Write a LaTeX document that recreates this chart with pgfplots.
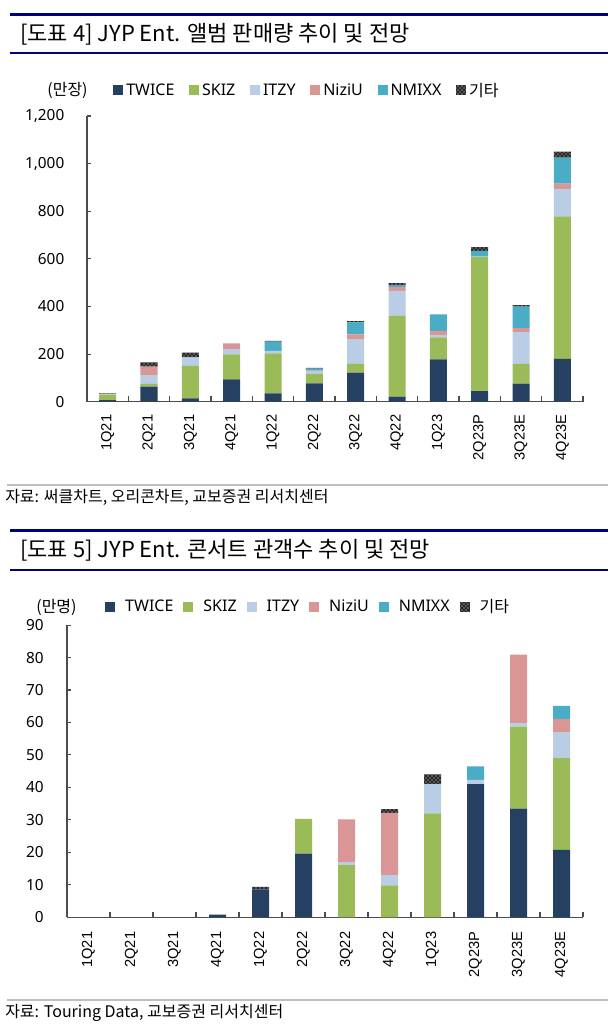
\documentclass[border=0pt]{standalone}
\usepackage{fontspec}
\usepackage{pgfplots}
\usepackage{pgfplotstable}
\pgfplotsset{compat=1.18}
\usetikzlibrary{patterns}
\setmainfont{Noto Sans}
\newfontfamily\kr{Noto Sans CJK KR}
\newfontfamily\arialf{Liberation Sans}
\newfontfamily\titlef{Noto Sans CJK KR}

\definecolor{cTwice}{RGB}{37,64,97}
\definecolor{cSkiz}{RGB}{155,187,89}
\definecolor{cItzy}{RGB}{185,205,229}
\definecolor{cNiziu}{RGB}{217,150,148}
\definecolor{cNmixx}{RGB}{75,172,198}
\definecolor{navy}{RGB}{0,0,128}

% album sales (10k copies)
\pgfplotstableread{
q TWICE SKIZ ITZY NiziU NMIXX ETC
0 7 23 3 0 0 2
1 63 12 37 35 0 18
2 14 137 35 0 0 20
3 94 105 22 24 0 0
4 35 168 10 0 39 3
5 77 40 12 2 8 3
6 122 37 104 20 50 5
7 21 340 105 16 9 7
8 178 92 10 18 69 0
9 44 563 2 0 24 16
10 76 83 133 17 90 7
11 180 598 116 22 109 25
}\albums

% concert audience (10k)
\pgfplotstableread{
q TWICE SKIZ ITZY NiziU NMIXX ETC
0 0 0 0 0 0 0
1 0 0 0 0 0 0
2 0 0 0 0 0 0
3 0.8 0 0 0 0 0
4 8.6 0 0 0 0 0.8
5 19.6 10.7 0 0 0 0
6 0 16.1 0.9 13.2 0 0
7 0 9.8 3.2 19.2 0 1.1
8 0 32 9 0 0 3
9 41 0 1.3 0 4.2 0
10 33.5 25.2 1.1 21.1 0 0
11 20.8 28.2 8 4 4.1 0
}\concerts

\pgfplotsset{
  jyp/.style={
    scale only axis, ybar stacked, bar width=12.75pt,
    xmin=-0.5, xmax=11.5, ymin=0,
    axis x line*=bottom, axis y line*=left,
    axis line style={black!70, line width=0.9pt},
    tick align=inside,
    xtick={0,...,11},
    xticklabels={1Q21,2Q21,3Q21,4Q21,1Q22,2Q22,3Q22,4Q22,1Q23,2Q23P,3Q23E,4Q23E},
    minor xtick={0.5,1.5,...,11.5},
    major x tick style={draw=none},
    minor tick length=4.25pt, major tick length=3.25pt,
    every tick/.style={black!70, line width=0.8pt},
    x tick label style={font=\arialf\fontsize{11}{12}\selectfont, rotate=90, anchor=east},
    y tick label style={font=\fontsize{11.5}{13}\selectfont},
    /pgf/number format/assume math mode=true,
    /pgf/number format/1000 sep={,},
    legend columns=6,
    legend style={draw=none, fill=none, inner sep=0pt, anchor=west,
      nodes={inner sep=0pt, font=\fontsize{12}{14}\selectfont}},
    every axis plot post/.append style={draw=none},
    legend image code/.code={\fill[##1] (0pt,-3.75pt) rectangle (7.5pt,3.75pt);},
  },
  twice/.style={fill=cTwice},
  skiz/.style={fill=cSkiz},
  itzy/.style={fill=cItzy},
  niziu/.style={fill=cNiziu},
  nmixx/.style={fill=cNmixx},
  etc/.style={fill=black!85, postaction={pattern=crosshatch dots, pattern color=white}},
}

\begin{document}
\begin{tikzpicture}[x=0.75pt, y=-0.75pt]
\useasboundingbox (0,0) rectangle (615,1032);

% ---- chart 4 ----
\draw[navy, line width=2.25pt] (10,14.2) -- (608,14.2);
\draw[navy, line width=1.5pt] (10,53.3) -- (608,53.3);
\node[anchor=west, inner sep=0pt, font=\titlef\fontsize{16.5}{19}\selectfont] at (20,34) {[도표 4] JYP Ent. 앨범 판매량 추이 및 전망};

\begin{axis}[jyp,
  at={(65.25pt,-301.28pt)}, anchor=south west,
  width=372pt, height=214.3pt,
  ymax=1200, ytick={0,200,...,1200},
  yticklabel shift=13.5pt, xticklabel shift=6.3pt,
  legend style={at={(0.0524,1.0893)},
    /tikz/every odd column/.style={column sep=2.25pt},
    /tikz/every even column/.style={column sep=11pt}},
]
\addplot[twice] table[x=q, y=TWICE] {\albums};
\addlegendentry{TWICE}
\addplot[skiz] table[x=q, y=SKIZ] {\albums};
\addlegendentry{SKIZ}
\addplot[itzy] table[x=q, y=ITZY] {\albums};
\addlegendentry{ITZY}
\addplot[niziu] table[x=q, y=NiziU] {\albums};
\addlegendentry{NiziU}
\addplot[nmixx] table[x=q, y=NMIXX] {\albums};
\addlegendentry{NMIXX}
\addplot[etc] table[x=q, y=ETC] {\albums};
\addlegendentry{{\kr 기타}}
\end{axis}
\node[font=\kr\fontsize{12}{14}\selectfont] at (67.5,90.5) {(만장)};

\draw[black!25, line width=1.5pt] (7,485) -- (608,485);
\node[anchor=west, inner sep=0pt, font=\kr\fontsize{12}{14}\selectfont] at (5,497) {자료: 써클차트, 오리콘차트, 교보증권 리서치센터};

% ---- chart 5 ----
\draw[navy, line width=2.25pt] (10,530) -- (608,530);
\draw[navy, line width=1.5pt] (10,570) -- (608,570);
\node[anchor=west, inner sep=0pt, font=\titlef\fontsize{16.5}{19}\selectfont] at (20,550) {[도표 5] JYP Ent. 콘서트 관객수 추이 및 전망};

\begin{axis}[jyp,
  at={(50.25pt,-687.98pt)}, anchor=south west,
  width=387pt, height=219.2pt,
  ymax=90, ytick={0,10,...,90},
  yticklabel shift=14pt, xticklabel shift=7.3pt,
  legend style={at={(0.0736,1.0616)},
    /tikz/every odd column/.style={column sep=7.5pt},
    /tikz/every even column/.style={column sep=7.5pt}},
]
\addplot[twice] table[x=q, y=TWICE] {\concerts};
\addlegendentry{TWICE}
\addplot[skiz] table[x=q, y=SKIZ] {\concerts};
\addlegendentry{SKIZ}
\addplot[itzy] table[x=q, y=ITZY] {\concerts};
\addlegendentry{ITZY}
\addplot[niziu] table[x=q, y=NiziU] {\concerts};
\addlegendentry{NiziU}
\addplot[nmixx] table[x=q, y=NMIXX] {\concerts};
\addlegendentry{NMIXX}
\addplot[etc] table[x=q, y=ETC] {\concerts};
\addlegendentry{{\kr 기타}}
\end{axis}
\node[font=\kr\fontsize{12}{14}\selectfont] at (56.5,607) {(만명)};

\draw[black!25, line width=1.5pt] (7,1000) -- (608,1000);
\node[anchor=west, inner sep=0pt, font=\kr\fontsize{12}{14}\selectfont] at (5,1013) {자료: Touring Data, 교보증권 리서치센터};
\end{tikzpicture}
\end{document}
